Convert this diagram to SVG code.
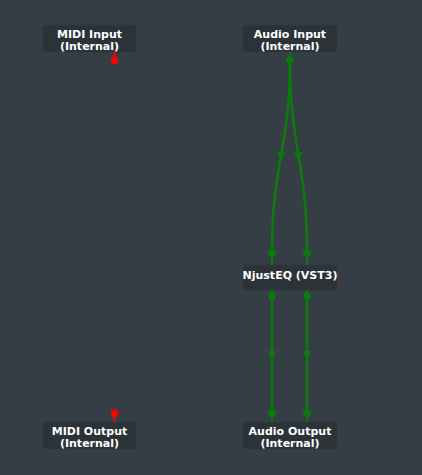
<svg xmlns="http://www.w3.org/2000/svg" width="422" height="475" viewBox="0 0 422 475">
<style>
.box{fill:#2b3238;stroke:#30383e;stroke-width:1}
.t{font-family:"DejaVu Sans",sans-serif;font-weight:bold;font-size:11px;fill:#ffffff;text-anchor:middle}
.wire{fill:none;stroke:#0d7a0d;stroke-width:2.6}
.arr{fill:#0d7a0d}
.ap{fill:#0a7a0a}
.mp{fill:#ff0000}
</style>
<rect width="422" height="475" fill="#353e45"/>
<g id="connectors">
<path class="wire" d="M290,60 C290,150 272,160 272,253"/>
<path class="wire" d="M290,60 C290,150 307,160 307,253"/>
<path class="wire" d="M272,296 L272,413"/>
<path class="wire" d="M307,296 L307,413"/>
<polygon class="arr" points="277.5,152 285.5,152 281,161"/>
<polygon class="arr" points="294.5,152 302.5,152 298,161"/>
<polygon class="arr" points="268,351 276,351 272,360"/>
<polygon class="arr" points="303,351 311,351 307,360"/>
</g>
<g id="midi-input">
<rect class="box" x="43" y="25" width="93" height="27" rx="3"/>
<text class="t" x="89.5" y="37.5">MIDI Input</text>
<text class="t" x="89.5" y="49.5">(Internal)</text>
<rect class="mp" x="113.5" y="52" width="2" height="8"/>
<circle class="mp" cx="114.5" cy="60.5" r="3.8"/>
</g>
<g id="audio-input">
<rect class="box" x="243" y="25" width="94" height="27" rx="3"/>
<text class="t" x="290" y="37.5">Audio Input</text>
<text class="t" x="290" y="49.5">(Internal)</text>
<rect class="ap" x="289" y="52" width="2" height="8"/>
<circle class="ap" cx="290" cy="60" r="3.8"/>
</g>
<g id="njusteq">
<rect class="box" x="243" y="265" width="94" height="25" rx="3"/>
<text class="t" x="290" y="279">NjustEQ (VST3)</text>
<rect class="ap" x="271" y="253" width="2" height="12"/>
<circle class="ap" cx="272" cy="253" r="3.8"/>
<rect class="ap" x="306" y="253" width="2" height="12"/>
<circle class="ap" cx="307" cy="253" r="3.8"/>
<rect class="ap" x="271" y="290" width="2" height="6"/>
<circle class="ap" cx="272" cy="296" r="3.8"/>
<rect class="ap" x="306" y="290" width="2" height="6"/>
<circle class="ap" cx="307" cy="296" r="3.8"/>
</g>
<g id="midi-output">
<rect class="box" x="43" y="422" width="93" height="27" rx="3"/>
<text class="t" x="89.5" y="434.5">MIDI Output</text>
<text class="t" x="89.5" y="446.5">(Internal)</text>
<rect class="mp" x="113.5" y="413" width="2" height="9"/>
<circle class="mp" cx="114.5" cy="413" r="3.8"/>
</g>
<g id="audio-output">
<rect class="box" x="243" y="422" width="94" height="27" rx="3"/>
<text class="t" x="290" y="434.5">Audio Output</text>
<text class="t" x="290" y="446.5">(Internal)</text>
<rect class="ap" x="271" y="413" width="2" height="9"/>
<circle class="ap" cx="272" cy="413" r="3.8"/>
<rect class="ap" x="306" y="413" width="2" height="9"/>
<circle class="ap" cx="307" cy="413" r="3.8"/>
</g>
</svg>
